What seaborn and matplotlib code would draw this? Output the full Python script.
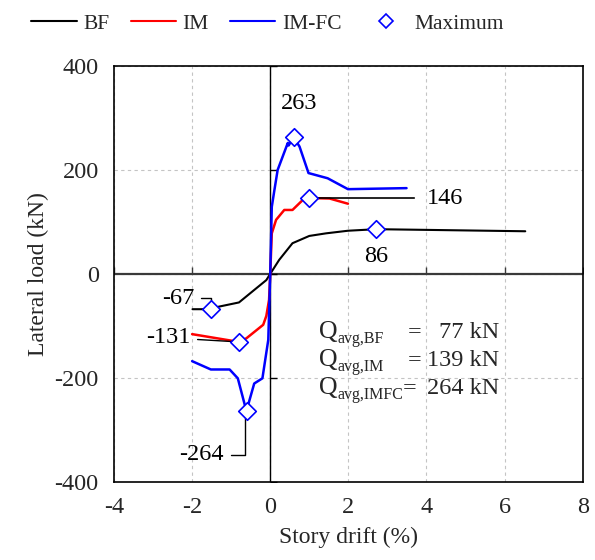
import numpy as np
import pandas as pd
import matplotlib
matplotlib.use("Agg")
import matplotlib.pyplot as plt
from matplotlib.lines import Line2D
import seaborn as sns

# ---- data ----
bf_x = [-1.99, -1.52, -1.31, -0.80, -0.41, -0.10, 0.0, 0.23, 0.57, 1.00, 1.43, 1.99, 2.72, 6.53]
bf_y = [-68, -68, -63, -55, -31, -12, 0, 27, 59, 73, 78, 83, 86, 82]

im_x = [-2.00, -1.52, -0.80, -0.61, -0.18, -0.10, -0.03, 0.0, 0.04, 0.15, 0.36, 0.57, 0.83, 0.98, 1.52, 1.99]
im_y = [-116, -122, -131, -124, -98, -81, -50, 0, 78, 104, 123, 123, 142, 146, 145, 135]

fc_x = [-2.00, -1.52, -1.04, -0.83, -0.61, -0.41, -0.20, -0.05, 0.0, 0.04, 0.10, 0.19, 0.32,
        0.45, 0.47, 0.60, 0.75, 0.98, 1.47, 1.99, 3.49]
fc_y = [-168, -184, -184, -201, -264, -211, -201, -127, 0, 129, 158, 200, 226,
        252, 247, 263, 245, 194, 184, 163, 165]

max_x = [2.72, 0.98, 0.60, -1.52, -0.80, -0.60]
max_y = [86, 146, 263, -67, -131, -264]
max_labels = ["86", "146", "263", "-67", "-131", "-264"]

series_names = ["BF", "IM", "IM-FC"]
series_colors = ["black", "red", "blue"]

xticks = [-4, -2, 0, 2, 4, 6, 8]
yticks = [-400, -200, 0, 200, 400]

q_subs = ["avg,BF", "avg,IM", "avg,IMFC"]
q_values = ["77 kN", "139 kN", "264 kN"]

# ---- style ----
sns.set_style("white")
plt.rcParams["font.family"] = ["Liberation Serif", "DejaVu Serif"]
plt.rcParams["axes.unicode_minus"] = False
FS = 17.5
FL = 17

df = pd.concat([
    pd.DataFrame({"drift": bf_x, "load": bf_y, "series": "BF", "order": range(len(bf_x))}),
    pd.DataFrame({"drift": im_x, "load": im_y, "series": "IM", "order": range(len(im_x))}),
    pd.DataFrame({"drift": fc_x, "load": fc_y, "series": "IM-FC", "order": range(len(fc_x))}),
], ignore_index=True)

fig = plt.figure(figsize=(5.95, 5.6), dpi=100)
ax = fig.add_axes([0.1916, 0.1398, 0.7877, 0.7423])

ax.set_xlim(-4, 8)
ax.set_ylim(-400, 400)
ax.set_xticks(xticks)
ax.set_yticks(yticks)
ax.grid(True, ls=(0, (3, 3)), color="#c4c4c4", lw=0.8)
ax.set_axisbelow(True)

# zero axis lines
ax.axhline(0, color="#3a3a3a", lw=1.6, zorder=1)
ax.axvline(0, color="black", lw=1.0, zorder=1)
ax.plot(xticks, [0] * len(xticks), ls="none", marker=2, ms=5, mew=1, color="#3a3a3a", zorder=1)
ax.plot([0] * len(yticks), yticks, ls="none", marker=1, ms=5, mew=1, color="black", zorder=1)

sns.lineplot(data=df, x="drift", y="load", hue="series", hue_order=series_names,
             palette=dict(zip(series_names, series_colors)), sort=False, estimator=None,
             units="series", linewidth=1.8, legend=False, ax=ax, zorder=3)
for ln, c in zip(ax.lines[-3:], series_colors):
    if c == "black":
        ln.set_linewidth(1.5)

sns.scatterplot(x=max_x, y=max_y, marker="D", s=80, facecolor="white",
                edgecolor="blue", linewidth=1.2, ax=ax, zorder=5)

# annotations
kw = dict(fontsize=FS, color="black")
ax.annotate("263", xy=(0.60, 263), xytext=(0.75, 327), ha="center", va="center", **kw)
ax.annotate("86", xy=(2.72, 86), xytext=(2.72, 34), ha="center", va="center", **kw)
ax.annotate("146", xy=(0.98, 146), xytext=(4.02, 146), ha="left", va="center",
            arrowprops=dict(arrowstyle="-", color="black", lw=1.2, shrinkA=7, shrinkB=0), **kw)
ax.annotate("-67", xy=(-1.52, -67), xytext=(-1.93, -47), ha="right", va="center",
            arrowprops=dict(arrowstyle="-", color="black", lw=1.0, shrinkA=2, shrinkB=3,
                            connectionstyle="angle,angleA=0,angleB=90,rad=0"), **kw)
ax.annotate("-131", xy=(-0.80, -131), xytext=(-2.05, -123), ha="right", va="center",
            arrowprops=dict(arrowstyle="-", color="black", lw=1.0, shrinkA=3, shrinkB=4), **kw)
ax.annotate("-264", xy=(-0.64, -264), xytext=(-1.20, -348), ha="right", va="center",
            arrowprops=dict(arrowstyle="-", color="black", lw=1.0, shrinkA=3, shrinkB=5,
                            connectionstyle="angle,angleA=0,angleB=90,rad=0"), **kw)

# Q_avg text block
q_y = [-112, -166, -220]
eq_x = [3.52, 3.52, 3.40]
for sub, val, yy, ex in zip(q_subs, q_values, q_y, eq_x):
    ax.text(1.25, yy, "Q", fontsize=FS + 1, ha="left", va="center")
    ax.annotate(sub, xy=(1.25, yy), xytext=(13.6, -5), textcoords="offset points",
                fontsize=11.5, ha="left", va="center")
    ax.text(ex, yy, "=", fontsize=FS, ha="left", va="center")
    ax.text(5.86, yy, val, fontsize=FS, ha="right", va="center")

ax.set_xlabel("Story drift (%)", fontsize=FL, labelpad=6)
ax.set_ylabel("Lateral load (kN)", fontsize=FL, labelpad=4)
ax.tick_params(axis="both", length=0, labelsize=FS)
ax.tick_params(axis="y", pad=11)
ax.tick_params(axis="x", pad=11)
for sp in ax.spines.values():
    sp.set_visible(True)
    sp.set_color("black")
    sp.set_linewidth(1.2)

handles = [Line2D([], [], color=c, lw=1.5) for c in series_colors]
handles.append(Line2D([], [], ls="none", marker="D", ms=7, mfc="white", mec="blue", mew=1.2))
fig.legend(handles, series_names + ["Maximum"], loc="upper center", bbox_to_anchor=(0.45, 1.01),
           ncol=4, frameon=False, fontsize=15.5, handlelength=2.1, handletextpad=0.3,
           columnspacing=1.0)

fig.savefig("out.png", dpi=100)
